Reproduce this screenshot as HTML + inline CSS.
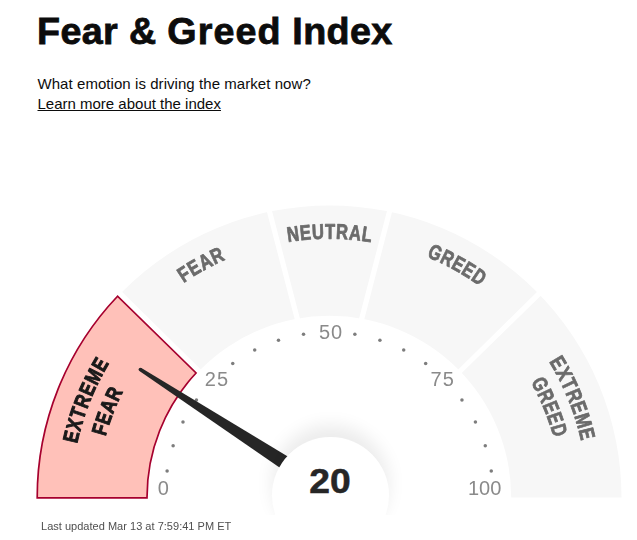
<!DOCTYPE html>
<html><head><meta charset="utf-8"><title>Fear &amp; Greed Index</title>
<style>
html,body{margin:0;padding:0;background:#fff;}
body{width:637px;height:540px;overflow:hidden;position:relative;font-family:"Liberation Sans",sans-serif;color:#0c0c0c;}
h1{position:absolute;left:37px;top:9px;-webkit-text-stroke:0.8px #0c0c0c;margin:0;font-size:37.7px;line-height:44px;font-weight:bold;letter-spacing:0.36px;white-space:nowrap;color:#0c0c0c;}
.sub{position:absolute;left:37.5px;top:74px;letter-spacing:0.06px;font-size:15px;line-height:20px;white-space:nowrap;color:#0c0c0c;}
.lnk{position:absolute;left:37.5px;top:94px;font-size:15px;line-height:20px;white-space:nowrap;color:#0c0c0c;text-decoration:underline;text-underline-offset:1px;}
.ft{position:absolute;left:41px;top:519px;font-size:11px;line-height:14px;white-space:nowrap;color:#4f4f4f;background:#fff;letter-spacing:0.02px;}
svg{position:absolute;left:0;top:0;will-change:transform;}
svg text{font-family:"Liberation Sans",sans-serif;}
.hub{position:absolute;left:0;top:0;width:637px;height:515px;overflow:hidden;pointer-events:none;}
.hub i{position:absolute;left:271.5px;top:437px;width:117px;height:117px;border-radius:50%;background:#fff;box-shadow:0 -12px 17px 0 rgba(0,0,0,0.078);}
.val{position:absolute;left:299.7px;width:60px;text-align:center;top:460.7px;font-size:34.2px;line-height:40px;height:40px;font-weight:bold;color:#262626;-webkit-text-stroke:0.5px #262626;background:#fff;}
.val span{display:inline-block;transform:scaleX(1.09);}
</style></head><body>
<h1>Fear &amp; <span style="letter-spacing:1.05px">Greed</span> Index</h1>
<div class="sub">What emotion is driving the market now?</div>
<div class="lnk">Learn more about the index</div>
<svg width="637" height="540" viewBox="0 0 637 540">
<defs><clipPath id="ring"><path d="M37.5,497.5 A292.0,292.0 0 0 1 621.5,497.5 L511.2,497.5 A181.7,181.7 0 0 0 147.8,497.5 Z"/></clipPath></defs>
<g clip-path="url(#ring)">
<polygon points="-110.60,62.90 184.30,-107.90 377.50,639.70 432.60,597.70" fill="#f7f7f7"/>
<polygon points="769.60,62.90 474.70,-107.90 281.50,639.70 226.40,597.70" fill="#f7f7f7"/>
<polygon points="238.98,83.74 420.02,83.74 326.18,445.16 332.82,445.16" fill="#f7f7f7"/>
<polygon points="779.00,62.90 900.00,62.90 900.00,600.00 224.60,600.00 224.60,604.70" fill="#f7f7f7"/>
</g>
<path d="M37.20,497.9 A292.3,292.3 0 0 1 117.54,296.23 L196.08,372.98 A182.5,182.5 0 0 0 147.00,497.9 Z" fill="#ffc1b9" stroke="#a6002e" stroke-width="1.7" stroke-linejoin="miter"/>
<g fill="#7d7d7d">
<circle cx="167.12" cy="470.88" r="1.75"/>
<circle cx="173.13" cy="445.80" r="1.75"/>
<circle cx="182.99" cy="421.96" r="1.75"/>
<circle cx="196.44" cy="399.97" r="1.75"/>
<circle cx="232.74" cy="363.60" r="1.75"/>
<circle cx="254.70" cy="350.12" r="1.75"/>
<circle cx="278.49" cy="340.25" r="1.75"/>
<circle cx="303.53" cy="334.22" r="1.75"/>
<circle cx="354.87" cy="334.22" r="1.75"/>
<circle cx="379.91" cy="340.25" r="1.75"/>
<circle cx="403.70" cy="350.12" r="1.75"/>
<circle cx="425.66" cy="363.60" r="1.75"/>
<circle cx="461.96" cy="399.97" r="1.75"/>
<circle cx="475.41" cy="421.96" r="1.75"/>
<circle cx="485.27" cy="445.80" r="1.75"/>
<circle cx="491.28" cy="470.88" r="1.75"/>
</g>
<g font-size="20" fill="#8a8a8a">
<text x="163.4" y="495.3" text-anchor="middle">0</text>
<text x="216.9" y="386.3" text-anchor="middle" letter-spacing="1">25</text>
<text x="331.0" y="339.2" text-anchor="middle" letter-spacing="1">50</text>
<text x="442.7" y="386.3" text-anchor="middle" letter-spacing="1">75</text>
<text x="484.7" y="495.4" text-anchor="middle">100</text>
</g>
<text transform="translate(78.39,438.28) rotate(-76.73) scale(0.798,1.0)" text-anchor="middle" font-size="21.2" font-weight="bold" fill="#1a1a1a" stroke="#1a1a1a" stroke-width="0.9" vector-effect="non-scaling-stroke" stroke-linejoin="round">E</text>
<text transform="translate(81.47,426.48) rotate(-74.02) scale(0.798,1.0)" text-anchor="middle" font-size="21.2" font-weight="bold" fill="#1a1a1a" stroke="#1a1a1a" stroke-width="0.9" vector-effect="non-scaling-stroke" stroke-linejoin="round">X</text>
<text transform="translate(84.94,415.30) rotate(-71.42) scale(0.798,1.0)" text-anchor="middle" font-size="21.2" font-weight="bold" fill="#1a1a1a" stroke="#1a1a1a" stroke-width="0.9" vector-effect="non-scaling-stroke" stroke-linejoin="round">T</text>
<text transform="translate(89.10,403.85) rotate(-68.72) scale(0.798,1.0)" text-anchor="middle" font-size="21.2" font-weight="bold" fill="#1a1a1a" stroke="#1a1a1a" stroke-width="0.9" vector-effect="non-scaling-stroke" stroke-linejoin="round">R</text>
<text transform="translate(93.98,392.18) rotate(-65.91) scale(0.798,1.0)" text-anchor="middle" font-size="21.2" font-weight="bold" fill="#1a1a1a" stroke="#1a1a1a" stroke-width="0.9" vector-effect="non-scaling-stroke" stroke-linejoin="round">E</text>
<text transform="translate(99.85,379.93) rotate(-62.89) scale(0.798,1.0)" text-anchor="middle" font-size="21.2" font-weight="bold" fill="#1a1a1a" stroke="#1a1a1a" stroke-width="0.9" vector-effect="non-scaling-stroke" stroke-linejoin="round">M</text>
<text transform="translate(106.36,368.00) rotate(-59.87) scale(0.798,1.0)" text-anchor="middle" font-size="21.2" font-weight="bold" fill="#1a1a1a" stroke="#1a1a1a" stroke-width="0.9" vector-effect="non-scaling-stroke" stroke-linejoin="round">E</text>
<text transform="translate(107.03,431.69) rotate(-73.52) scale(0.794,1.0)" text-anchor="middle" font-size="21.2" font-weight="bold" fill="#1a1a1a" stroke="#1a1a1a" stroke-width="0.9" vector-effect="non-scaling-stroke" stroke-linejoin="round">F</text>
<text transform="translate(110.61,420.60) rotate(-70.64) scale(0.794,1.0)" text-anchor="middle" font-size="21.2" font-weight="bold" fill="#1a1a1a" stroke="#1a1a1a" stroke-width="0.9" vector-effect="non-scaling-stroke" stroke-linejoin="round">E</text>
<text transform="translate(115.11,408.85) rotate(-67.53) scale(0.794,1.0)" text-anchor="middle" font-size="21.2" font-weight="bold" fill="#1a1a1a" stroke="#1a1a1a" stroke-width="0.9" vector-effect="non-scaling-stroke" stroke-linejoin="round">A</text>
<text transform="translate(120.43,396.93) rotate(-64.31) scale(0.794,1.0)" text-anchor="middle" font-size="21.2" font-weight="bold" fill="#1a1a1a" stroke="#1a1a1a" stroke-width="0.9" vector-effect="non-scaling-stroke" stroke-linejoin="round">R</text>
<text transform="translate(187.87,280.06) rotate(-33.08) scale(0.799,1.0)" text-anchor="middle" font-size="21.2" font-weight="bold" fill="#6b6b6b" stroke="#6b6b6b" stroke-width="0.7" vector-effect="non-scaling-stroke" stroke-linejoin="round">F</text>
<text transform="translate(197.66,273.99) rotate(-30.54) scale(0.799,1.0)" text-anchor="middle" font-size="21.2" font-weight="bold" fill="#6b6b6b" stroke="#6b6b6b" stroke-width="0.7" vector-effect="non-scaling-stroke" stroke-linejoin="round">E</text>
<text transform="translate(208.54,267.92) rotate(-27.78) scale(0.799,1.0)" text-anchor="middle" font-size="21.2" font-weight="bold" fill="#6b6b6b" stroke="#6b6b6b" stroke-width="0.7" vector-effect="non-scaling-stroke" stroke-linejoin="round">A</text>
<text transform="translate(220.12,262.18) rotate(-24.93) scale(0.799,1.0)" text-anchor="middle" font-size="21.2" font-weight="bold" fill="#6b6b6b" stroke="#6b6b6b" stroke-width="0.7" vector-effect="non-scaling-stroke" stroke-linejoin="round">R</text>
<text transform="translate(293.86,241.27) rotate(-7.92) scale(0.783,1.0)" text-anchor="middle" font-size="21.2" font-weight="bold" fill="#6b6b6b" stroke="#6b6b6b" stroke-width="0.7" vector-effect="non-scaling-stroke" stroke-linejoin="round">N</text>
<text transform="translate(306.01,239.87) rotate(-5.21) scale(0.783,1.0)" text-anchor="middle" font-size="21.2" font-weight="bold" fill="#6b6b6b" stroke="#6b6b6b" stroke-width="0.7" vector-effect="non-scaling-stroke" stroke-linejoin="round">E</text>
<text transform="translate(318.21,239.05) rotate(-2.50) scale(0.783,1.0)" text-anchor="middle" font-size="21.2" font-weight="bold" fill="#6b6b6b" stroke="#6b6b6b" stroke-width="0.7" vector-effect="non-scaling-stroke" stroke-linejoin="round">U</text>
<text transform="translate(329.97,238.80) rotate(0.10) scale(0.783,1.0)" text-anchor="middle" font-size="21.2" font-weight="bold" fill="#6b6b6b" stroke="#6b6b6b" stroke-width="0.7" vector-effect="non-scaling-stroke" stroke-linejoin="round">T</text>
<text transform="translate(341.72,239.09) rotate(2.71) scale(0.783,1.0)" text-anchor="middle" font-size="21.2" font-weight="bold" fill="#6b6b6b" stroke="#6b6b6b" stroke-width="0.7" vector-effect="non-scaling-stroke" stroke-linejoin="round">R</text>
<text transform="translate(354.38,240.00) rotate(5.52) scale(0.783,1.0)" text-anchor="middle" font-size="21.2" font-weight="bold" fill="#6b6b6b" stroke="#6b6b6b" stroke-width="0.7" vector-effect="non-scaling-stroke" stroke-linejoin="round">A</text>
<text transform="translate(366.06,241.40) rotate(8.12) scale(0.783,1.0)" text-anchor="middle" font-size="21.2" font-weight="bold" fill="#6b6b6b" stroke="#6b6b6b" stroke-width="0.7" vector-effect="non-scaling-stroke" stroke-linejoin="round">L</text>
<text transform="translate(432.44,259.29) rotate(23.37) scale(0.772,1.0)" text-anchor="middle" font-size="21.2" font-weight="bold" fill="#6b6b6b" stroke="#6b6b6b" stroke-width="0.7" vector-effect="non-scaling-stroke" stroke-linejoin="round">G</text>
<text transform="translate(444.22,264.73) rotate(26.24) scale(0.772,1.0)" text-anchor="middle" font-size="21.2" font-weight="bold" fill="#6b6b6b" stroke="#6b6b6b" stroke-width="0.7" vector-effect="non-scaling-stroke" stroke-linejoin="round">R</text>
<text transform="translate(454.91,270.32) rotate(28.90) scale(0.772,1.0)" text-anchor="middle" font-size="21.2" font-weight="bold" fill="#6b6b6b" stroke="#6b6b6b" stroke-width="0.7" vector-effect="non-scaling-stroke" stroke-linejoin="round">E</text>
<text transform="translate(464.95,276.16) rotate(31.46) scale(0.772,1.0)" text-anchor="middle" font-size="21.2" font-weight="bold" fill="#6b6b6b" stroke="#6b6b6b" stroke-width="0.7" vector-effect="non-scaling-stroke" stroke-linejoin="round">E</text>
<text transform="translate(475.10,282.69) rotate(34.13) scale(0.772,1.0)" text-anchor="middle" font-size="21.2" font-weight="bold" fill="#6b6b6b" stroke="#6b6b6b" stroke-width="0.7" vector-effect="non-scaling-stroke" stroke-linejoin="round">D</text>
<text transform="translate(551.77,366.50) rotate(59.48) scale(0.800,1.0)" text-anchor="middle" font-size="21.2" font-weight="bold" fill="#6b6b6b" stroke="#6b6b6b" stroke-width="0.7" vector-effect="non-scaling-stroke" stroke-linejoin="round">E</text>
<text transform="translate(557.62,376.98) rotate(62.15) scale(0.800,1.0)" text-anchor="middle" font-size="21.2" font-weight="bold" fill="#6b6b6b" stroke="#6b6b6b" stroke-width="0.7" vector-effect="non-scaling-stroke" stroke-linejoin="round">X</text>
<text transform="translate(562.78,387.30) rotate(64.72) scale(0.800,1.0)" text-anchor="middle" font-size="21.2" font-weight="bold" fill="#6b6b6b" stroke="#6b6b6b" stroke-width="0.7" vector-effect="non-scaling-stroke" stroke-linejoin="round">T</text>
<text transform="translate(567.66,398.28) rotate(67.38) scale(0.800,1.0)" text-anchor="middle" font-size="21.2" font-weight="bold" fill="#6b6b6b" stroke="#6b6b6b" stroke-width="0.7" vector-effect="non-scaling-stroke" stroke-linejoin="round">R</text>
<text transform="translate(572.18,409.91) rotate(70.15) scale(0.800,1.0)" text-anchor="middle" font-size="21.2" font-weight="bold" fill="#6b6b6b" stroke="#6b6b6b" stroke-width="0.7" vector-effect="non-scaling-stroke" stroke-linejoin="round">E</text>
<text transform="translate(576.40,422.65) rotate(73.13) scale(0.800,1.0)" text-anchor="middle" font-size="21.2" font-weight="bold" fill="#6b6b6b" stroke="#6b6b6b" stroke-width="0.7" vector-effect="non-scaling-stroke" stroke-linejoin="round">M</text>
<text transform="translate(579.96,435.59) rotate(76.12) scale(0.800,1.0)" text-anchor="middle" font-size="21.2" font-weight="bold" fill="#6b6b6b" stroke="#6b6b6b" stroke-width="0.7" vector-effect="non-scaling-stroke" stroke-linejoin="round">E</text>
<text transform="translate(533.77,387.50) rotate(61.70) scale(0.764,1.0)" text-anchor="middle" font-size="21.2" font-weight="bold" fill="#6b6b6b" stroke="#6b6b6b" stroke-width="0.7" vector-effect="non-scaling-stroke" stroke-linejoin="round">G</text>
<text transform="translate(539.54,398.98) rotate(64.87) scale(0.764,1.0)" text-anchor="middle" font-size="21.2" font-weight="bold" fill="#6b6b6b" stroke="#6b6b6b" stroke-width="0.7" vector-effect="non-scaling-stroke" stroke-linejoin="round">R</text>
<text transform="translate(544.34,409.92) rotate(67.82) scale(0.764,1.0)" text-anchor="middle" font-size="21.2" font-weight="bold" fill="#6b6b6b" stroke="#6b6b6b" stroke-width="0.7" vector-effect="non-scaling-stroke" stroke-linejoin="round">E</text>
<text transform="translate(548.41,420.68) rotate(70.66) scale(0.764,1.0)" text-anchor="middle" font-size="21.2" font-weight="bold" fill="#6b6b6b" stroke="#6b6b6b" stroke-width="0.7" vector-effect="non-scaling-stroke" stroke-linejoin="round">E</text>
<text transform="translate(552.08,432.05) rotate(73.61) scale(0.764,1.0)" text-anchor="middle" font-size="21.2" font-weight="bold" fill="#6b6b6b" stroke="#6b6b6b" stroke-width="0.7" vector-effect="non-scaling-stroke" stroke-linejoin="round">D</text>
</svg>
<svg width="637" height="540" viewBox="0 0 637 540">
<polygon points="139.42,371.01 141.38,367.99 312.60,471.49 304.20,484.51" fill="#262626"/><circle cx="140.40" cy="369.50" r="1.80" fill="#262626"/>
</svg>
<div class="hub"><i></i></div>
<div class="val"><span>20</span></div>
<div class="ft">Last updated Mar 13 at 7:59:41 PM ET</div>
</body></html>
